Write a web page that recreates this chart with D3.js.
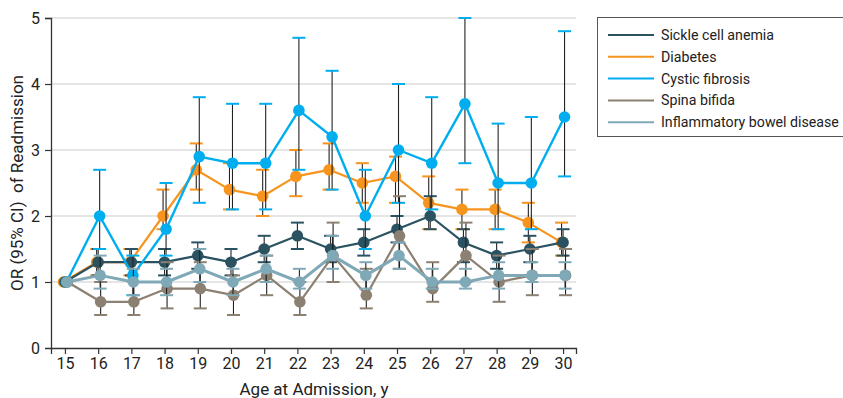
<!DOCTYPE html>
<html>
<head>
<meta charset="utf-8">
<script src="https://cdn.jsdelivr.net/npm/d3@7"></script>
<style>
  body { margin: 0; background: #fff; }
  svg { display: block; font-family: "Liberation Sans Narrow", "Roboto", sans-serif; }
</style>
</head>
<body>
<div id="chart"></div>
<script>
'use strict'

// ages on the x axis
const ages = d3.range(15, 31)
const yTicks = [0, 1, 2, 3, 4, 5]

// odds ratios and 95% CI, one array per condition
const sickleOR = [1.0, 1.3, 1.3, 1.3, 1.4, 1.3, 1.5, 1.7, 1.5, 1.6, 1.8, 2.0, 1.6, 1.4, 1.5, 1.6]
const sickleLo = [1.0, 1.1, 1.1, 1.1, 1.2, 1.1, 1.3, 1.5, 1.3, 1.4, 1.6, 1.8, 1.3, 1.2, 1.3, 1.4]
const sickleHi = [1.0, 1.5, 1.5, 1.5, 1.6, 1.5, 1.7, 1.9, 1.7, 1.8, 2.0, 2.3, 1.8, 1.6, 1.7, 1.8]

const diabetesOR = [1.0, 1.3, 1.3, 2.0, 2.7, 2.4, 2.3, 2.6, 2.7, 2.5, 2.6, 2.2, 2.1, 2.1, 1.9, 1.6]
const diabetesLo = [1.0, 1.1, 1.1, 1.8, 2.4, 2.1, 2.0, 2.3, 2.4, 2.2, 2.2, 1.8, 1.8, 1.8, 1.6, 1.4]
const diabetesHi = [1.0, 1.5, 1.5, 2.4, 3.1, 2.8, 2.7, 3.0, 3.1, 2.8, 2.9, 2.6, 2.4, 2.4, 2.2, 1.9]

const cfOR = [1.0, 2.0, 1.1, 1.8, 2.9, 2.8, 2.8, 3.6, 3.2, 2.0, 3.0, 2.8, 3.7, 2.5, 2.5, 3.5]
const cfLo = [1.0, 1.5, 0.8, 1.4, 2.2, 2.1, 2.1, 2.7, 2.4, 1.5, 2.2, 2.1, 2.8, 1.8, 1.8, 2.6]
const cfHi = [1.0, 2.7, 1.4, 2.5, 3.8, 3.7, 3.7, 4.7, 4.2, 2.7, 4.0, 3.8, 5.0, 3.4, 3.5, 4.8]

const spinaOR = [1.0, 0.7, 0.7, 0.9, 0.9, 0.8, 1.1, 0.7, 1.4, 0.8, 1.7, 0.9, 1.4, 1.0, 1.1, 1.1]
const spinaLo = [1.0, 0.5, 0.5, 0.6, 0.6, 0.5, 0.8, 0.5, 1.0, 0.6, 1.2, 0.7, 1.0, 0.7, 0.8, 0.8]
const spinaHi = [1.0, 1.0, 1.0, 1.3, 1.3, 1.1, 1.4, 1.0, 1.9, 1.2, 2.3, 1.3, 1.9, 1.4, 1.5, 1.5]

const ibdOR = [1.0, 1.1, 1.0, 1.0, 1.2, 1.0, 1.2, 1.0, 1.4, 1.1, 1.4, 1.0, 1.0, 1.1, 1.1, 1.1]
const ibdLo = [1.0, 0.9, 0.8, 0.8, 1.0, 0.8, 1.0, 0.9, 1.2, 0.9, 1.2, 0.9, 0.9, 0.9, 1.0, 0.9]
const ibdHi = [1.0, 1.4, 1.2, 1.2, 1.5, 1.2, 1.4, 1.2, 1.7, 1.3, 1.6, 1.2, 1.2, 1.3, 1.3, 1.3]

const seriesNames = ['Sickle cell anemia', 'Diabetes', 'Cystic fibrosis', 'Spina bifida', 'Inflammatory bowel disease']
const seriesColors = ['#2a5261', '#f7941d', '#00aeef', '#8b8072', '#80a9b8']

const series = [
    {name: seriesNames[0], color: seriesColors[0], or: sickleOR, lo: sickleLo, hi: sickleHi, dx: 0, w: 2.2},
    {name: seriesNames[1], color: seriesColors[1], or: diabetesOR, lo: diabetesLo, hi: diabetesHi, dx: -1.5, w: 2.2},
    {name: seriesNames[2], color: seriesColors[2], or: cfOR, lo: cfLo, hi: cfHi, dx: 1.5, w: 2.4},
    {name: seriesNames[3], color: seriesColors[3], or: spinaOR, lo: spinaLo, hi: spinaHi, dx: 2.5, w: 2.2},
    {name: seriesNames[4], color: seriesColors[4], or: ibdOR, lo: ibdLo, hi: ibdHi, dx: 2, w: 3}
]
// draw order seen in the figure
const drawOrder = [1, 0, 2, 3, 4]

////////////////////////////////////
//////////// svg setup /////////////
////////////////////////////////////

const svgWidth = 843
const svgHeight = 398

const svg = d3.select('#chart').append('svg')
    .attr('width', svgWidth)
    .attr('height', svgHeight)

const x = d3.scaleLinear().domain([14.58, 30.39]).range([51, 576])
const y = d3.scaleLinear().domain([0, 5]).range([348, 18])

// gridlines
svg.append('g')
    .selectAll('line')
    .data(yTicks.filter(d => d > 0))
    .join('line')
    .attr('x1', x.range()[0]).attr('x2', x.range()[1])
    .attr('y1', d => y(d)).attr('y2', d => y(d))
    .attr('stroke', '#dcdcdc')
    .attr('stroke-width', 1.5)

// axes
const xAxis = svg.append('g')
    .attr('transform', `translate(0,${y(0)})`)
    .call(d3.axisBottom(x).tickValues(ages).tickFormat(d3.format('d')).tickSizeOuter(0).tickSize(6).tickPadding(4))
const yAxis = svg.append('g')
    .attr('transform', `translate(${x.range()[0]},0)`)
    .call(d3.axisLeft(y).tickValues(yTicks).tickFormat(d3.format('d')).tickSizeOuter(0).tickSize(6).tickPadding(5))

;[xAxis, yAxis].forEach(g => {
    g.select('.domain').attr('stroke', '#333').attr('stroke-width', 1.3)
    g.selectAll('.tick line').attr('stroke', '#333').attr('stroke-width', 1.2)
    g.selectAll('.tick text').attr('fill', '#222').style('font-size', '16px')
        .style('font-family', '"Liberation Sans Narrow", "Roboto", sans-serif')
})
yAxis.select('.tick:first-of-type line').remove()

// axis titles
svg.append('text')
    .attr('x', (x(15) + x(30)) / 2)
    .attr('y', 395)
    .attr('text-anchor', 'middle')
    .attr('fill', '#222')
    .style('font-size', '17px')
    .text('Age at Admission, y')

svg.append('text')
    .attr('transform', `translate(23,${(y(0) + y(5)) / 2}) rotate(-90)`)
    .attr('text-anchor', 'middle')
    .attr('fill', '#222')
    .style('font-size', '17px')
    .style('white-space', 'pre')
    .text('OR (95% CI)  of Readmission')

////////////////////////////////////
//////////// series ////////////////
////////////////////////////////////

const capHalf = 6.5

drawOrder.forEach(i => {
    const s = series[i]
    const pts = ages.map((a, j) => ({age: a, or: s.or[j], lo: s.lo[j], hi: s.hi[j]}))
    const g = svg.append('g').attr('class', 'series')
    const bars = pts.filter(d => d.lo !== d.hi)

    // error bar stems
    g.selectAll('.stem')
        .data(bars)
        .join('line')
        .attr('class', 'stem')
        .attr('x1', d => x(d.age) + s.dx).attr('x2', d => x(d.age) + s.dx)
        .attr('y1', d => y(d.lo)).attr('y2', d => y(d.hi))
        .attr('stroke', '#222')
        .attr('stroke-width', 1.1)

    // caps
    g.selectAll('.cap')
        .data(bars.flatMap(d => [{age: d.age, v: d.lo}, {age: d.age, v: d.hi}]))
        .join('line')
        .attr('class', 'cap')
        .attr('x1', d => x(d.age) + s.dx - capHalf).attr('x2', d => x(d.age) + s.dx + capHalf)
        .attr('y1', d => y(d.v)).attr('y2', d => y(d.v))
        .attr('stroke', s.color)
        .attr('stroke-width', 2)

    g.append('path')
        .datum(pts)
        .attr('fill', 'none')
        .attr('stroke', s.color)
        .attr('stroke-width', s.w)
        .attr('stroke-linejoin', 'round')
        .attr('d', d3.line().x(d => x(d.age) + s.dx).y(d => y(d.or)))

    g.selectAll('circle')
        .data(pts)
        .join('circle')
        .attr('cx', d => x(d.age) + s.dx)
        .attr('cy', d => y(d.or))
        .attr('r', 5.8)
        .attr('fill', s.color)
})

////////////////////////////////////
//////////// legend ////////////////
////////////////////////////////////

const legend = svg.append('g').attr('transform', 'translate(597,17)')
legend.append('rect')
    .attr('x', 0.5).attr('y', 0.5)
    .attr('width', 260).attr('height', 119)
    .attr('fill', '#fff')
    .attr('stroke', '#555')
    .attr('stroke-width', 1)

const rows = legend.selectAll('.row')
    .data(series)
    .join('g')
    .attr('class', 'row')
    .attr('transform', (d, i) => `translate(0,${18 + i * 21.8})`)

rows.append('line')
    .attr('x1', 11).attr('x2', 57)
    .attr('stroke', d => d.color)
    .attr('stroke-width', 2)
rows.append('text')
    .attr('x', 64)
    .attr('dy', '0.35em')
    .attr('fill', '#222')
    .style('font-size', '14.2px')
    .text(d => d.name)
</script>
</body>
</html>
